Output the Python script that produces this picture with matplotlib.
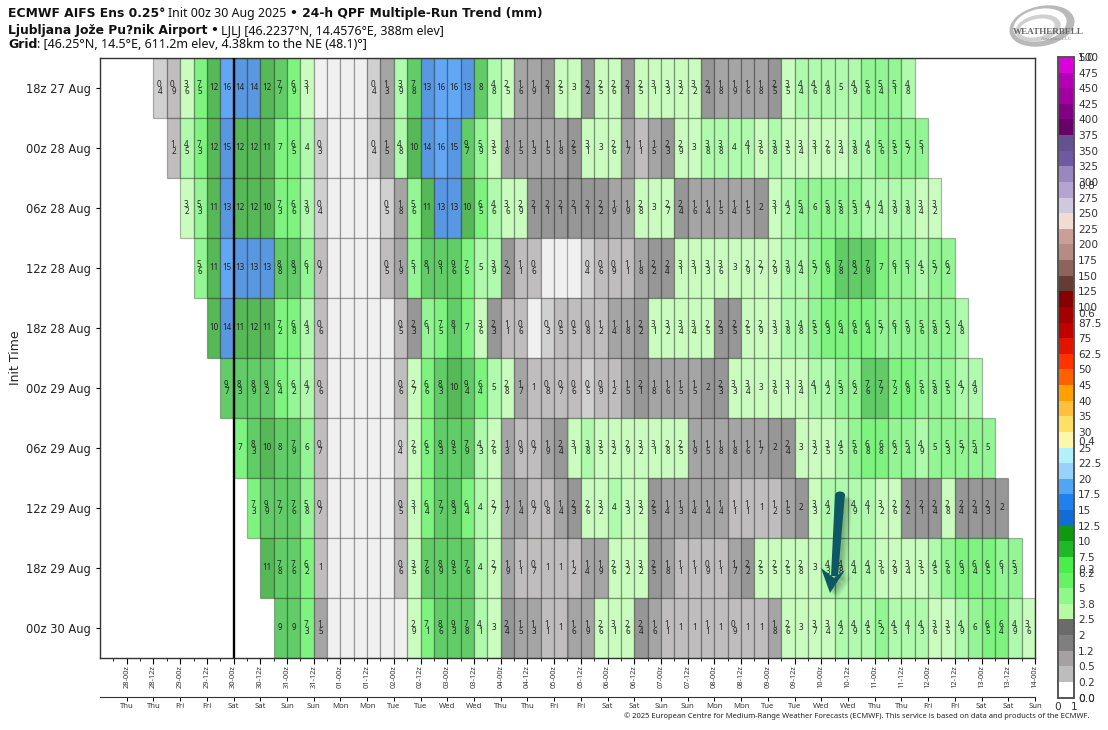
import numpy as np
import matplotlib
matplotlib.use("Agg")
import matplotlib.pyplot as plt
from matplotlib.colors import ListedColormap, BoundaryNorm, to_rgba
from matplotlib.patches import Polygon, Ellipse
from matplotlib.transforms import Affine2D

init_labels = ["18z 27 Aug", "00z 28 Aug", "06z 28 Aug", "12z 28 Aug", "18z 28 Aug",
               "00z 29 Aug", "06z 29 Aug", "12z 29 Aug", "18z 29 Aug", "00z 30 Aug"]

# 24-h QPF per valid time, one list per init time (each run starts 6 h later)
# a few have an extra digit because the printed label is rounded across a colour bin
r_18z27 = [0.4, 0.9, 3.6, 7.5, 12, 16, 14, 14, 12, 7.7, 6.9, 3.1, 0, 0, 0, 0, 0.4, 1.3, 3.9, 7.8,
           13, 16, 16, 13, 8, 4.8, 2.5, 1.6, 1.9, 2.1, 2.5, 3, 2.2, 2.5, 2.6, 2.1, 2.5, 3.1, 3.3,
           3.2, 3.2, 2.4, 1.8, 1.9, 1.6, 1.8, 2.49, 3.5, 4.4, 4.6, 4.8, 4.98, 4.9, 5.6, 5.4, 5.1, 4.8]
r_00z28 = [1.2, 4.5, 7.3, 12, 14.9, 12, 12, 11, 7, 6.5, 4, 0.3, 0, 0, 0, 0.4, 1.5, 4.8, 10, 14, 16,
           14.9, 9.7, 5.9, 3.5, 1.8, 1.5, 1.3, 1.5, 1.8, 2.49, 3.1, 3, 2.6, 1.7, 1.1, 1.5, 2.3, 2.9,
           3, 3.8, 3.8, 4, 4.1, 3.6, 3.8, 3.5, 3.4, 3.1, 2.6, 3.4, 3.8, 4.6, 5.6, 5.5, 5.7, 5.1]
r_06z28 = [3.2, 5.3, 11, 13, 12, 12, 10, 7.3, 6.6, 3.9, 0.4, 0, 0, 0, 0, 0.49, 1.8, 5.6, 11, 13,
           13, 10, 6.5, 4.6, 3.6, 2.9, 2.1, 2.1, 2.1, 2.1, 2.1, 2.2, 1.9, 1.9, 2.8, 3, 2.7, 2.4,
           1.6, 1.4, 1.5, 1.4, 1.5, 2, 3.1, 4.2, 5.4, 6, 5.8, 5.8, 5.3, 4.7, 4.4, 3.9, 3.8, 3.4, 3.2]
r_12z28 = [5.6, 11, 15, 13, 13, 13, 8.8, 8.3, 6.1, 0.7, 0, 0, 0, 0, 0.5, 1.9, 5.1, 8.1, 9.1, 9.6,
           7.5, 4.98, 3.9, 2.2, 1.1, 0.6, 0, 0, 0, 0.4, 0.6, 0.9, 1.1, 1.8, 2.2, 2.4, 3.1, 3.1, 3.3,
           3.6, 3, 2.9, 2.7, 2.9, 3.9, 4.4, 5.7, 6.9, 7.8, 8.2, 7.9, 7, 6.1, 5.1, 4.5, 5.7, 6.19]
r_18z28 = [10, 14, 11, 12, 11, 7.2, 6.8, 4.3, 0.6, 0, 0, 0, 0, 0, 0.5, 2.3, 6.1, 7.5, 8.1, 7, 3.6,
           2.3, 1.1, 0.6, 0, 0.3, 0.5, 0.5, 0.8, 1.2, 1.4, 1.8, 2.2, 3.1, 3.2, 3.4, 3.4, 2.5, 2.3,
           2.49, 2.5, 2.9, 3.3, 3.8, 4.8, 5.5, 6.3, 6.4, 6.6, 6.4, 5.7, 6.1, 5.9, 5.6, 5.8, 5.2, 4.8]
r_00z29 = [9.7, 8.3, 8.9, 9.2, 6.4, 6.19, 4.7, 0.6, 0, 0, 0, 0, 0, 0.6, 2.7, 6.6, 8.3, 10, 9.4, 6.4,
           4.98, 2.8, 1.7, 1, 0.8, 0.7, 0.6, 0.49, 0.9, 1.2, 1.5, 2.1, 1.8, 1.6, 1.5, 1.5, 2, 2.3, 3.3,
           3.4, 3, 3.6, 3.1, 3.4, 4.1, 4.2, 5.3, 6.19, 7.6, 7.7, 7.2, 6.9, 5.6, 5.8, 5.5, 4.7, 4.9]
r_06z29 = [7, 8.3, 10, 8, 7.9, 6, 0.7, 0, 0, 0, 0, 0, 0.4, 2.6, 6.5, 8.3, 9.5, 7.9, 4.3, 2.6, 1.3,
           0.9, 0.7, 1.9, 2.4, 3.1, 3.8, 3.5, 3.2, 2.9, 3.2, 3.1, 2.8, 2.5, 1.9, 1.5, 1.8, 1.8,
           1.6, 1.7, 2, 2.4, 3, 3.2, 3.5, 4.5, 5.6, 6.8, 6.8, 6.19, 5.4, 4.9, 5, 5.3, 5.7, 5.4, 5]
r_12z29 = [7.3, 9.9, 7.7, 7.6, 5.8, 0.7, 0, 0, 0, 0, 0, 0.5, 3.1, 6.4, 7.7, 8.3, 6.4, 4, 2.7, 1.7,
           1.4, 0.7, 0.8, 1.4, 2.3, 2.6, 3.2, 4, 3.3, 3.2, 2.49, 1.4, 1.3, 1.4, 1.4, 1.4, 1.1, 1.1,
           1, 1.2, 1.5, 2, 3.3, 4.2, 4.3, 4.9, 4.1, 3.2, 2.6, 2.2, 2.1, 2.4, 2.8, 2.4, 2.4, 2.3, 2]
r_18z29 = [11, 7.8, 7.6, 6.2, 1, 0, 0, 0, 0, 0, 0.6, 3.5, 7.6, 8.9, 9.5, 7.6, 4, 2.7, 1.9, 1.1,
           0.7, 1, 1, 1.2, 1.4, 1.9, 2.6, 3.2, 3.2, 2.49, 1.8, 1.1, 1.1, 0.9, 1.1, 1.7, 2.2, 2.5,
           2.5, 2.5, 2.8, 3, 4.3, 4.8, 4.4, 4.4, 3.6, 2.9, 3.4, 3.5, 4.5, 5.6, 6.3, 6.4, 6.5, 6.1, 5.3]
r_00z30 = [9, 9, 7.3, 1.5, 0, 0, 0, 0, 0, 0, 2.9, 7.1, 8.6, 9.3, 7.8, 4.1, 3, 2.4, 1.5, 1.3, 1.1,
           1, 1.6, 1.9, 2.6, 3.1, 2.6, 2.4, 1.6, 1.1, 1, 1, 1.1, 1, 0.9, 1, 1, 1.8, 2.6, 3, 3.7,
           3.4, 4.2, 4.9, 4.5, 5.2, 4.5, 4.1, 4.3, 3.6, 3.5, 4.9, 6, 6.5, 6.4, 4.9, 3.6]
rows = [r_18z27, r_00z28, r_06z28, r_12z28, r_18z28, r_00z29, r_06z29, r_12z29, r_18z29, r_00z30]

cb_levels = [0.0, 0.2, 0.5, 1.2, 2, 2.5, 3.8, 5, 6.2, 7.5, 10, 12.5, 15, 17.5, 20, 22.5, 25, 30, 35,
             40, 45, 50, 62.5, 75, 87.5, 100, 125, 150, 175, 200, 225, 250, 275, 300, 325, 350,
             375, 400, 425, 450, 475, 500]
cb_colors = ["#ffffff", "#bdbdbd", "#a5a1a1", "#7f7f7f", "#6b6b6b", "#b4fba4", "#8ef88a", "#65f265",
             "#48ef4a", "#1fb928", "#0e9a10", "#136cd3", "#2080f0", "#50a5f5", "#96d2fa", "#b4f0fa",
             "#fff7a8", "#ffe066", "#ffc03c", "#ffa000", "#ff6000", "#ff3200", "#e11400", "#c00000",
             "#a50000", "#870000", "#643c32", "#8c645a", "#b48c82", "#c8a096", "#f0dcd2", "#cfc8df",
             "#b5a4cf", "#9b87bf", "#6e5aa0", "#645191", "#6a006a", "#820082", "#a000a0", "#b400b4",
             "#dc00dc"]

day_names = ["Thu", "Fri", "Sat", "Sun", "Mon", "Tue", "Wed"]
dates = ["28", "29", "30", "31", "01", "02", "03", "04", "05", "06", "07", "08", "09", "10", "11", "12", "13", "14"]

plt.rcParams["font.family"] = ["DejaVu Sans"]
fig = plt.figure(figsize=(11.08, 7.3), dpi=100)
W, H = 1108.0, 730.0


def box(x0, y0, x1, y1):
    # pixel box (from top left) to figure fractions
    return [x0 / W, 1 - y1 / H, (x1 - x0) / W, (y1 - y0) / H]


ax = fig.add_axes(box(100, 58, 1035, 658))
cmap = ListedColormap(cb_colors)
# cells at 1.2 and 7.5 stay in the lower bin
bounds = list(cb_levels)
bounds[3] = 1.25
bounds[9] = 7.55
norm = BoundaryNorm(bounds, cmap.N)

for i, vals in enumerate(rows):
    lefts = np.arange(len(vals)) + 2 + i
    cols = []
    for v in vals:
        if v == 0:
            cols.append(to_rgba("#f0f0f0", 1))
        else:
            cols.append(to_rgba(cmap(norm(v)), 0.7))
    ax.bar(lefts, 1, width=1, bottom=i, align="edge", color=cols, edgecolor=(0, 0, 0, 0.28), linewidth=0.9)
    for x, v in zip(lefts, vals):
        if v == 0:
            continue
        if v >= 10:
            s = "%d" % round(v)
        else:
            s = "%.1f" % v
            if s.endswith(".0"):
                s = s[0]
            else:
                s = s[:2] + "\n" + s[2]
        ax.text(x + 0.5, i + 0.5, s, ha="center", va="center", fontsize=5.8, family="Noto Sans",
                color="#222222", linespacing=0.85)

ax.axvline(8, color="black", lw=1.7, zorder=5)
ax.set_yticks(np.arange(10) + 0.5)
ax.set_yticklabels(init_labels, fontsize=8.3, color="#222222")
ax.set_ylabel("Init Time", fontsize=9, color="#222222", labelpad=3)
ax.tick_params(axis="y", length=3, width=0.8)

ticks12 = np.arange(0, 69, 2)
tick_labels = []
day_labels = []
for k in range(len(ticks12)):
    tick_labels.append("%s-%s" % (dates[k // 2], "00z" if k % 2 == 0 else "12z"))
    day_labels.append(day_names[(k // 2) % 7])
ax.set_xticks(ticks12)
ax.set_xticklabels(tick_labels, rotation=90, fontsize=5.4, color="#333333", family="Noto Sans")
ax.set_xticks(np.arange(-1, 68, 2), minor=True)
ax.tick_params(axis="x", which="major", length=4, width=0.8, pad=1)
ax.tick_params(axis="x", which="minor", length=2, width=0.6)
ax.set_xlim(-2, 68)
ax.set_ylim(10, 0)
for s in ax.spines.values():
    s.set_color("#333333")
    s.set_linewidth(1.0)

# second axis line with the weekday names
sec = ax.secondary_xaxis(-0.065)
sec.set_xticks(ticks12)
sec.set_xticklabels(day_labels, fontsize=5.6, color="#333333", family="Noto Sans")
sec.tick_params(axis="x", length=3, width=0.7, pad=1.5)
sec.spines["bottom"].set_linewidth(0.8)
sec.spines["bottom"].set_color("#333333")

# colorbar, with the default 0-1 ticks left under the level labels
cax = fig.add_axes(box(1058, 57, 1074, 697.5))
edges = np.linspace(0, 1, len(cb_levels))
cax.pcolormesh([0, 1], edges, np.arange(len(cb_colors)).reshape(-1, 1), cmap=cmap,
               vmin=-0.5, vmax=len(cb_colors) - 0.5)
cax2 = cax.twinx()
cax.set_xlim(0, 1)
cax.set_ylim(0, 1)
cax.set_xticks([0, 1])
cax.set_xticklabels(["0", "1"], fontsize=7.6, color="#333333")
cax.yaxis.tick_right()
cax.set_yticks([0, 0.2, 0.4, 0.6, 0.8, 1.0])
cax.set_yticklabels(["0.0", "0.2", "0.4", "0.6", "0.8", "1.0"], fontsize=7.6, color="#333333")
cax.tick_params(axis="y", length=0, pad=3)
cax.tick_params(axis="x", length=0, pad=3)
for s in cax.spines.values():
    s.set_color("#555555")
    s.set_linewidth(1.4)
cax2.set_ylim(0, 1)
cax2.set_yticks(edges)
cax2.set_yticklabels(["%g" % c if c else "0.0" for c in cb_levels], fontsize=7.6, color="#333333")
cax2.tick_params(length=0, pad=3)
for s in cax2.spines.values():
    s.set_visible(False)


def chain(x, y, parts, size):
    # runs of differently styled text on one baseline
    end = x
    for txt, bold in parts:
        kw = dict(fontsize=size, color="#111111", va="baseline", ha="left")
        if bold:
            kw.update(fontweight="bold", family="DejaVu Sans")
        else:
            kw.update(family="Noto Sans")
        if txt.startswith(":"):
            end -= 3
        t = fig.text(end / W, 1 - y / H, txt, **kw)
        fig.canvas.draw()
        end = t.get_window_extent().x1 + 3


chain(8, 17, [("ECMWF AIFS Ens 0.25°", True), ("Init 00z 30 Aug 2025", False),
              ("• 24-h QPF Multiple-Run Trend (mm)", True)], 8.95)
chain(8, 34, [("Ljubljana Jože Pu?nik Airport", True), ("•", True),
              ("LJLJ [46.2237°N, 14.4576°E, 388m elev]", False)], 8.95)
chain(8, 48, [("Grid", True), (": [46.25°N, 14.5°E, 611.2m elev, 4.38km to the NE (48.1)°]", False)], 9.0)

fig.text(1090 / W, 1 - 716 / H, "© 2025 European Centre for Medium-Range Weather Forecasts (ECMWF). "
         "This service is based on data and products of the ECMWF.", ha="right", va="center",
         fontsize=5.45, family="Noto Sans", color="#222222")

# logo in the top right corner
px = Affine2D().scale(1 / W, -1 / H).translate(0, 1) + fig.transFigure
for (cx, cy, a, b, c) in [(1042, 26, 66, 40, "#b9b9b9"), (1040, 25, 54, 32, "#ffffff"), (1038, 28, 46, 26, "#d0d0d0"), (1037, 28, 36, 18, "#ffffff")]:
    fig.add_artist(Ellipse((cx, cy), a, b, angle=-12, facecolor=c, edgecolor="none", transform=px, zorder=1))
fig.text(1048 / W, 1 - 32 / H, "WEATHERBELL", ha="center", va="center", fontsize=6.6, family="Liberation Serif",
         color="#666666", fontweight="bold")
fig.text(1056 / W, 1 - 39 / H, "Analytics LLC", ha="center", va="center", fontsize=3.6, family="Liberation Serif",
         color="#888888")

# hand drawn arrow over the plot, with a soft shadow
shaft = [(835, 494), (845, 494), (838, 576), (831, 576)]
head = [(821, 568), (834, 578), (845, 570), (830, 593)]
for off in range(2, 9):
    for pts in (shaft, head):
        shifted = [(p + off, q + off * 0.7) for p, q in pts]
        fig.add_artist(Polygon(shifted, closed=True, facecolor=(0, 0, 0, 0.045), edgecolor="none", transform=px, zorder=6))
for pts in (shaft, head):
    fig.add_artist(Polygon(pts, closed=True, facecolor="#0e5764", edgecolor="none", transform=px, zorder=7))
fig.add_artist(Ellipse((840, 495), 10, 7, facecolor="#0e5764", edgecolor="none", transform=px, zorder=7))

fig.savefig("out.png", dpi=100)
